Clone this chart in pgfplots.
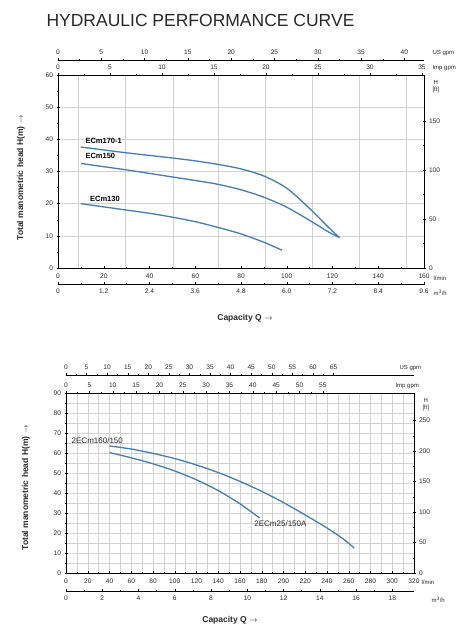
\documentclass[border=0pt]{standalone}
\usepackage{pgfplots}
\pgfplotsset{compat=1.18}
\usepackage{fontspec}
\setmainfont{Liberation Sans}
\definecolor{curve}{RGB}{70,125,175}
\definecolor{gridc}{RGB}{210,210,210}
\definecolor{txt}{RGB}{40,40,40}
\pgfplotsset{
  base/.style={scale only axis, anchor=south west, clip=false,
    tick label style={font=\fontsize{6.6}{7.5}\selectfont, text=txt},
    /pgf/number format/assume math mode=true,
    tick style={black, line width=0.4pt},
    axis line style={line width=0.6pt},
    major tick length=3pt, minor tick length=2pt, tick align=center},
  strip/.style={base, height=10pt, axis y line=none, ymin=0, ymax=1},
}
\tikzset{unit/.style={font=\fontsize{6}{7}\selectfont, text=txt, anchor=west}}
\begin{document}
\begin{tikzpicture}[x=1pt,y=1pt]
\useasboundingbox (0,0) rectangle (459,628);
\node[font=\fontsize{17.5}{20}\selectfont, text=txt, anchor=west] at (43,608) {HYDRAULIC PERFORMANCE CURVE};

% ================= TOP CHART =================
\begin{axis}[base, at={(58pt,360pt)}, width=366pt, height=193pt,
  xmin=0, xmax=160, ymin=0, ymax=60,
  xtick={0,20,...,160}, minor x tick num=1,
  ytick={0,10,...,60}, minor y tick num=1,
  xtick pos=left, ytick pos=left,
  ymajorgrids, grid style={gridc, line width=0.4pt},
  extra x ticks={8.7,29.5,50.2,70,90.5,111,131.5,152},
  extra x tick labels={},
  extra x tick style={grid=major, major tick length=0pt},
  xticklabel style={yshift=-1pt}]
\addplot[curve, line width=1.3pt, smooth] coordinates {
 (10,37.6) (20,36.7) (30,35.8) (40,35.0) (50,34.2) (60,33.3) (70,32.2) (80,30.8)
 (90,28.6) (100,24.8) (110,18.5) (118,12.8) (123,9.5)};
\addplot[curve, line width=1.3pt, smooth] coordinates {
 (10,32.5) (20,31.5) (30,30.5) (40,29.4) (50,28.3) (60,27.2) (70,26.0) (80,24.3)
 (90,22.0) (100,18.9) (110,14.8) (118,11.3) (123,9.5)};
\addplot[curve, line width=1.3pt, smooth] coordinates {
 (10,20.0) (20,19.0) (30,18.0) (40,17.0) (50,15.8) (60,14.4) (70,12.6) (80,10.6)
 (90,8.0) (98,5.5)};
\node[font=\bfseries\fontsize{7.5}{8.5}\selectfont, anchor=west] at (axis cs:10.5,39.5) {ECm170-1};
\node[font=\bfseries\fontsize{7.5}{8.5}\selectfont, anchor=west] at (axis cs:10.5,34.8) {ECm150};
\node[font=\bfseries\fontsize{7.5}{8.5}\selectfont, anchor=west] at (axis cs:12.5,21.5) {ECm130};
\end{axis}
% right ft axis
\begin{axis}[base, at={(58pt,360pt)}, width=366pt, height=193pt,
  axis x line=none, axis y line*=right, xmin=0, xmax=160,
  ymin=0, ymax=196.85, ytick={0,50,100,150}, minor y tick num=1]
\node[font=\fontsize{6}{6.5}\selectfont, text=txt, align=center, anchor=north west] at (rel axis cs:1,1) [xshift=5pt, yshift=-2pt] {H\\{[ft]}};
\end{axis}
% Imp gpm (top of box)
\begin{axis}[base, at={(58pt,360pt)}, width=366pt, height=193pt,
  axis x line*=top, axis y line=none, ymin=0, ymax=1,
  xmin=0, xmax=35.195, xtick={0,5,...,35}, minor x tick num=1]
\node[unit] at (rel axis cs:1,1) [xshift=5pt, yshift=7pt] {Imp gpm};
\end{axis}
% US gpm
\begin{axis}[strip, anchor=north west, at={(58pt,568pt)}, width=366pt,
  axis x line*=top, xmin=0, xmax=42.27, xtick={0,5,...,40}, minor x tick num=1]
\node[unit] at (rel axis cs:1,1) [xshift=5pt, yshift=7pt] {US gpm};
\end{axis}
% m3/h
\begin{axis}[strip, at={(58pt,344pt)}, width=366pt,
  axis x line*=bottom, xmin=0, xmax=9.6,
  xtick={0,1.2,2.4,3.6,4.8,6.0,7.2,8.4,9.6},
  xticklabels={0,1.2,2.4,3.6,4.8,6.0,7.2,8.4,9.6}, minor x tick num=1]
\node[unit] at (rel axis cs:1,0) [xshift=6pt, yshift=-9pt] {m\textsuperscript{3}/h};
\end{axis}
\node[unit] at (430,350) {l/min};
\node[font=\bfseries\fontsize{8.5}{9.5}\selectfont, text=txt, rotate=90] at (21,450) {Total manometric head H(m) $\rightarrow$};
\node[font=\bfseries\fontsize{8.5}{9.5}\selectfont, text=txt] at (245,310) {Capacity Q $\rightarrow$};

% ================= BOTTOM CHART =================
\begin{axis}[base, at={(66pt,55pt)}, width=348pt, height=180pt,
  xmin=0, xmax=320, ymin=0, ymax=90,
  xtick={0,20,...,320}, minor x tick num=1,
  ytick={0,10,...,90}, minor y tick num=1,
  xtick pos=left, ytick pos=left,
  grid=both, grid style={gridc, line width=0.4pt},
  minor grid style={gridc, line width=0.4pt},
  xticklabel style={yshift=-1pt}]
\addplot[curve, line width=1.3pt, smooth] coordinates {
 (40,63.5) (60,62.0) (80,59.8) (100,57.2) (120,54.0) (140,50.2) (160,45.8)
 (180,40.8) (200,35.2) (220,29.0) (240,22.5) (255,17.0) (265,12.5)};
\addplot[curve, line width=1.3pt, smooth] coordinates {
 (40,60.2) (60,57.6) (80,54.6) (100,51.0) (120,46.6) (140,41.2) (160,34.6) (178,27.5)};
\node[font=\fontsize{8}{9}\selectfont, text=txt, anchor=west] at (axis cs:2,66) {2ECm160/150};
\node[font=\fontsize{8}{9}\selectfont, text=txt, anchor=west] at (axis cs:170,24.5) {2ECm25/150A};
\end{axis}
\begin{axis}[base, at={(66pt,55pt)}, width=348pt, height=180pt,
  axis x line=none, axis y line*=right, xmin=0, xmax=320,
  ymin=0, ymax=295.28, ytick={0,50,...,250}, minor y tick num=1]
\node[font=\fontsize{6}{6.5}\selectfont, text=txt, align=center, anchor=north west] at (rel axis cs:1,1) [xshift=5pt, yshift=-2pt] {H\\{[ft]}};
\end{axis}
\begin{axis}[base, at={(66pt,55pt)}, width=348pt, height=180pt,
  axis x line*=top, axis y line=none, ymin=0, ymax=1,
  xmin=0, xmax=74.5, xtick={0,5,...,55}, minor x tick num=1]
\node[unit] at (rel axis cs:1,1) [xshift=-22pt, yshift=7pt] {Imp gpm};
\end{axis}
\begin{axis}[strip, anchor=north west, at={(66pt,253pt)}, width=348pt,
  axis x line*=top, xmin=0, xmax=84.54, xtick={0,5,...,65}, minor x tick num=1]
\node[unit] at (rel axis cs:1,1) [xshift=-18pt, yshift=7pt] {US gpm};
\end{axis}
\begin{axis}[strip, at={(66pt,37pt)}, width=348pt,
  axis x line*=bottom, xmin=0, xmax=19.2, xtick={0,2,...,18}, minor x tick num=1]
\node[unit] at (rel axis cs:1,0) [xshift=14pt, yshift=-9pt] {m\textsuperscript{3}/h};
\end{axis}
\node[unit] at (418,46) {l/min};
\node[font=\bfseries\fontsize{8.5}{9.5}\selectfont, text=txt, rotate=90] at (26,140) {Total manometric head H(m) $\rightarrow$};
\node[font=\bfseries\fontsize{8.5}{9.5}\selectfont, text=txt] at (230,8) {Capacity Q $\rightarrow$};
\end{tikzpicture}
\end{document}
